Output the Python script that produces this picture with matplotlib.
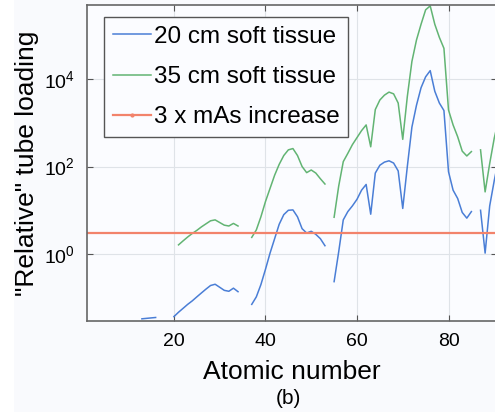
import numpy as np
import matplotlib
matplotlib.use("Agg")
import matplotlib.pyplot as plt
from matplotlib.patches import Rectangle

nan = np.nan
atomic_number = list(range(13, 92))

# relative tube loading, 20 cm soft tissue (NaN = no data)
soft20 = [0.0331, 0.0339, 0.0347, 0.0355, nan, nan, nan,
          0.0372, 0.0468, 0.0575, 0.0708, 0.0851, 0.105, 0.129, 0.158, 0.191, 0.204,
          0.174, 0.148, 0.141, 0.166, 0.138, nan, nan,
          0.0708, 0.105, 0.200, 0.447, 1.05, 2.24, 4.79, 7.94, 10.0, 10.2, 7.08, 3.80,
          3.02, 3.31, 2.82, 2.24, 1.55, nan,
          0.234, 1.12, 6.03, 9.33, 12.6, 17.8, 28.8, 38.9, 8.13, 70.8, 107, 126, 135,
          120, 79.4, 11.0, 100, 794, 2510, 6310, 11200, 15500, 5250, 2820, 1900, 75.9,
          28.8, 18.6, 8.91, 6.61, 9.33, nan,
          10.0, 1.05, 12.6, 47.9, 158]

# relative tube loading, 35 cm soft tissue
soft35 = [nan, nan, nan, nan, nan, nan, nan,
          nan, 1.62, 2.00, 2.45, 2.95, 3.47, 4.17, 4.90, 5.75, 6.03,
          5.25, 4.57, 4.37, 5.01, 4.37, nan, nan,
          2.40, 3.55, 7.08, 15.8, 31.6, 63.1, 112, 178, 240, 257, 178, 100,
          72.4, 83.2, 70.8, 52.5, 39.8, nan,
          6.92, 35.5, 129, 200, 316, 457, 661, 891, 282, 2000, 3310, 4270, 5010,
          4570, 2820, 417, 3980, 25100, 77600, 178000, 380000, 468000, 178000, 89100, 50100, 1950,
          891, 479, 224, 174, 219, nan,
          240, 26.3, 117, 447, 1260]

mas_increase = 3
legend_labels = ["20 cm soft tissue", "35 cm soft tissue", "3 x mAs increase"]
x_ticks = [20, 40, 60, 80]
y_ticks = [1e0, 1e2, 1e4]

W, H = 495, 412
fig = plt.figure(figsize=(W / 100, H / 100), dpi=100, facecolor="#f9fafd")
fig.patches.append(Rectangle((0, 0), 14 / W, 1, transform=fig.transFigure,
                             facecolor="white", edgecolor="none", zorder=-1))

left, bottom, top = 87 / W, 1 - 321 / H, 1 - 5 / H
ax = fig.add_axes([left, bottom, 1.005 - left, top - bottom])
ax.set_facecolor("#fbfcff")

font = "Liberation Sans"

ax.plot(atomic_number, soft20, color="#4a7ed6", lw=1.1, label=legend_labels[0])
ax.plot(atomic_number, soft35, color="#62b473", lw=1.1, label=legend_labels[1])
ax.plot([0, 100], [mas_increase, mas_increase], color="#f2836b", lw=1.6,
        marker=".", markersize=4, label=legend_labels[2])

ax.set_yscale("log")
ax.set_xlim(1, 90.7)
ax.set_ylim(10 ** -1.53, 10 ** 5.69)
ax.set_xticks(x_ticks)
ax.set_yticks(y_ticks)
ax.yaxis.set_minor_locator(matplotlib.ticker.NullLocator())
ax.grid(True, color="#dfe3e8", lw=0.8)
ax.set_axisbelow(True)
ax.tick_params(direction="in", length=4, width=0.8, color="#555555",
               top=True, right=True, labelsize=14, pad=9)
for lab in ax.get_xticklabels() + ax.get_yticklabels():
    lab.set_family(font)
for s in ax.spines.values():
    s.set_color("#666666")
    s.set_linewidth(1.2)

ax.set_xlabel("Atomic number", fontsize=19, family=font, labelpad=7)
ax.set_ylabel('"Relative" tube loading', fontsize=19, family=font, labelpad=3)
fig.text(288 / W, 1 - 398 / H, "(b)", ha="center", va="center", fontsize=15, family=font)

leg = ax.legend(loc="upper left", bbox_to_anchor=((104 - 87) / (ax.bbox.width), (321 - 17) / 316),
                borderaxespad=0, fancybox=False, framealpha=1, facecolor="#fbfcff",
                edgecolor="#555555", prop={"family": font, "size": 17.5},
                handlelength=1.6, handletextpad=0.1, labelspacing=0.76, borderpad=0.35,
                numpoints=1)
leg.get_frame().set_linewidth(1.0)

fig.savefig("out.png", dpi=100, facecolor=fig.get_facecolor())
